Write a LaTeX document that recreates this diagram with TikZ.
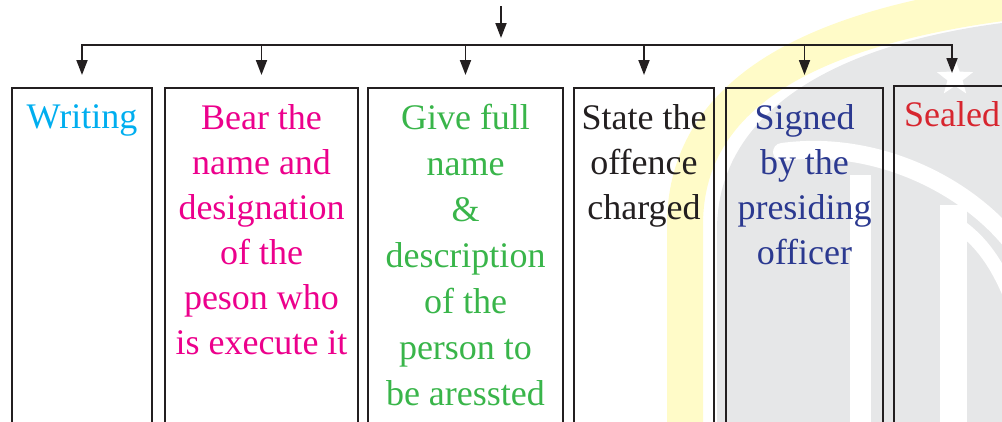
\documentclass[tikz,border=0pt]{standalone}
\usepackage{fontspec}
\setmainfont{Liberation Serif}
\usetikzlibrary{arrows.meta,shapes.geometric}
\definecolor{ink}{HTML}{231F20}
\definecolor{cCyan}{HTML}{00AEEF}
\definecolor{cPink}{HTML}{EC008C}
\definecolor{cGreen}{HTML}{39B54A}
\definecolor{cBlue}{HTML}{2B3990}
\definecolor{cRed}{HTML}{D7262F}
\definecolor{wmGrey}{HTML}{E6E7E8}
\definecolor{wmYellow}{HTML}{FFFBC8}
\tikzset{
  box/.style={draw=ink, line width=1.3pt, rectangle, inner sep=0pt, outer sep=0pt, anchor=north west, minimum height=345pt},
  lbl/.style={anchor=north, inner sep=0pt, align=center, font=\fontsize{36}{45}\selectfont},
  conn/.style={draw=ink, line width=1.8pt},
  tip/.tip={Triangle[width=11pt,length=15pt]},
  arr/.style={conn, -tip},
}
\begin{document}
\begin{tikzpicture}[x=1pt,y=-1pt]
\clip (0,0) rectangle (1002,421);
% watermark
\fill[wmGrey] (717,440) -- (717,230) .. controls (717,120) and (820,45) .. (1010,22) -- (1010,440) -- cycle;
\draw[wmYellow, line width=36pt] (685,440) -- (685,225) .. controls (685,105) and (790,30) .. (1010,2);
\draw[white, line width=18pt, line cap=round] (782,152) .. controls (870,140) and (960,180) .. (1010,240);
\fill[white] (850,175) rectangle (871,440);
\fill[white] (940,205) rectangle (967,440);
\draw[white, line width=14pt] (962,228) .. controls (985,245) and (1000,270) .. (1012,300);
\node[star, star points=5, star point ratio=2.4, fill=white, inner sep=0pt, minimum size=38pt] (wstar) at (955,78) {};
% boxes
\node[box, minimum width=140pt] (b1) at (12,88) {};
\node[box, minimum width=193pt] (b2) at (165,88) {};
\node[box, minimum width=195pt] (b3) at (368,88) {};
\node[box, minimum width=140pt] (b4) at (574,88) {};
\node[box, minimum width=157pt] (b5) at (726,88) {};
\node[box, minimum width=116pt] (b6) at (894,86) {};
% texts
\node[lbl, text=cCyan] (t1) at ([yshift=-16pt]b1.north) {Writing};
\node[lbl, text=cPink] (t2) at ([yshift=-16pt]b2.north) {Bear the\\name and\\designation\\of the\\peson who\\is execute it};
\node[lbl, text=cGreen, font=\fontsize{36}{46}\selectfont] (t3) at ([yshift=-16pt]b3.north) {Give full\\name\\\&\\description\\of the\\person to\\be aressted};
\node[lbl, text=ink] (t4) at ([yshift=-16pt]b4.north) {State the\\offence\\charged};
\node[lbl, text=cBlue] (t5) at ([yshift=-16pt]b5.north) {Signed\\by the\\presiding\\officer};
\node[lbl, text=cRed] (t6) at ([yshift=-15pt]b6.north) {Sealed};
% connectors
\coordinate (top) at (501,6);
\coordinate (hub) at (501,45);
\coordinate (topend) at (501,38);
\draw[arr] (top) -- (topend);
\draw[conn, tip-tip] ([yshift=13pt]b1.north) -- (b1.north |- hub) -- (b6.north |- hub) -- ([yshift=13pt]b6.north);
\draw[arr] (b2.north |- hub) -- ([yshift=13pt]b2.north);
\draw[arr] (b3.north |- hub) -- ([yshift=13pt]b3.north);
\draw[arr] (b4.north |- hub) -- ([yshift=13pt]b4.north);
\draw[arr] (b5.north |- hub) -- ([yshift=13pt]b5.north);
\end{tikzpicture}
\end{document}
